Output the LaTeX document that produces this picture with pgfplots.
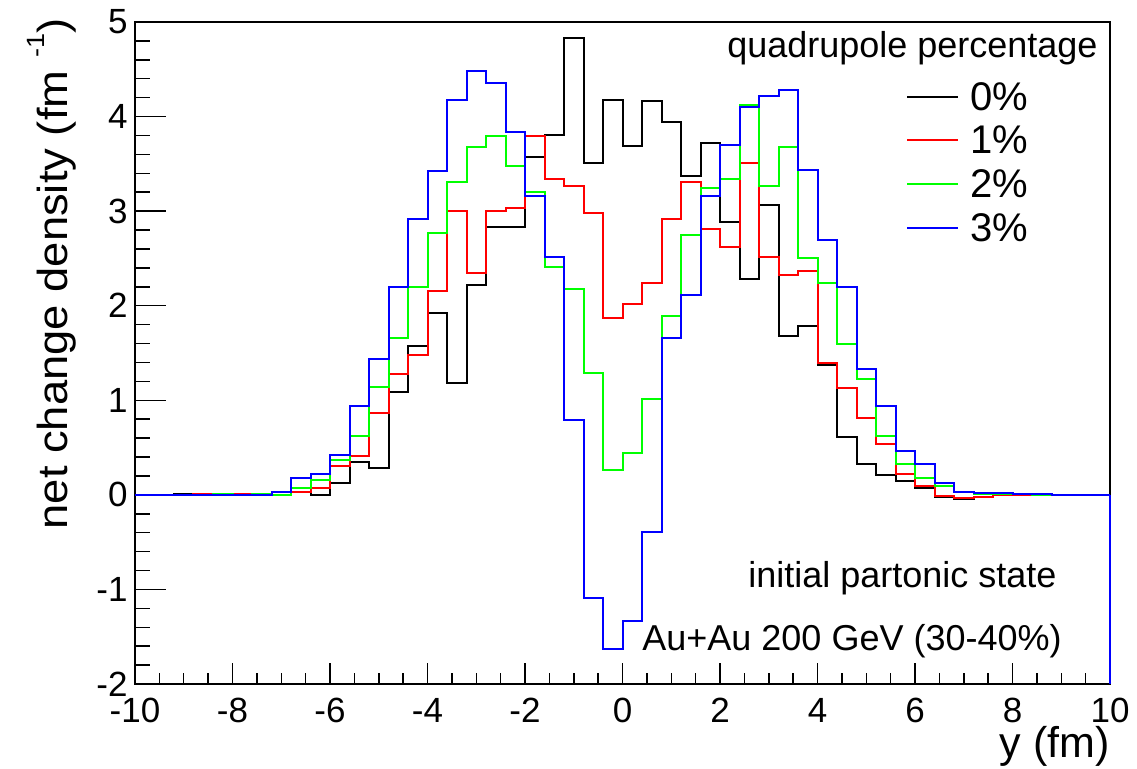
\documentclass[border=0pt]{standalone}
\usepackage{fontspec}
\setmainfont{Liberation Sans}
\usepackage{pgfplots}
\usepackage{pgfplotstable}
\pgfplotsset{compat=1.18}
\pgfplotstableread{
x black red green blue
-10.0 0 0 0 0
-9.6 0 0 0 0
-9.2 0.01 0 0 0
-8.8 0.01 0.01 0 0
-8.4 0.005 0 0.01 0
-8.0 0.005 0.01 0 0
-7.6 0 0 0.01 0
-7.2 0 0 0 0.03
-6.8 0.035 0.03 0.07 0.18
-6.4 0.0 0.07 0.16 0.22
-6.0 0.13 0.30 0.37 0.42
-5.6 0.35 0.41 0.62 0.94
-5.2 0.28 0.87 1.14 1.44
-4.8 1.09 1.28 1.66 2.20
-4.4 1.57 1.48 2.20 2.92
-4.0 1.92 2.16 2.77 3.42
-3.6 1.18 3.00 3.31 4.18
-3.2 2.22 2.35 3.68 4.48
-2.8 2.83 3.00 3.79 4.35
-2.4 2.83 3.03 3.48 3.84
-2.0 3.57 3.79 3.20 3.16
-1.6 3.81 3.34 2.41 2.51
-1.2 4.83 3.27 2.18 0.79
-0.8 3.51 2.98 1.29 -1.09
-0.4 4.18 1.87 0.26 -1.63
0.0 3.69 2.02 0.44 -1.33
0.4 4.16 2.24 1.01 -0.39
0.8 3.94 2.92 1.89 1.66
1.2 3.37 3.31 2.75 2.11
1.6 3.72 2.81 3.24 3.16
2.0 2.89 2.62 3.34 3.70
2.4 2.28 3.51 4.12 4.10
2.8 3.06 2.51 3.27 4.22
3.2 1.68 2.33 3.68 4.28
3.6 1.79 2.37 2.50 3.44
4.0 1.37 1.39 2.24 2.70
4.4 0.61 1.13 1.59 2.20
4.8 0.33 0.81 1.22 1.33
5.2 0.205 0.54 0.62 0.94
5.6 0.15 0.22 0.33 0.46
6.0 0.07 0.09 0.18 0.33
6.4 -0.025 -0.01 0.095 0.13
6.8 -0.045 -0.03 0.025 0.03
7.2 -0.025 -0.02 0.01 0.015
7.6 0 0 0.005 0.015
8.0 0 0 0.01 0.005
8.4 0 0 0 0.01
8.8 0 0 0 0
9.2 0 0 0 0
9.6 0 0 0 0
10.0 0 0 0 0
}\histdata
\begin{document}
\begin{tikzpicture}
\path[use as bounding box] (-67.5pt,-42pt) rectangle (501pt,342pt);
% y-axis ticks and frame
\begin{axis}[at={(0pt,0pt)}, anchor=south west, scale only axis,
  width=487.5pt, height=331pt,
  xmin=-10, xmax=10, ymin=-2, ymax=5,
  xtick=\empty, ytick={-2,-1,0,1,2,3,4,5},
  yticklabels={-2,-1,0,1,2,3,4,5},
  minor y tick num=4, ytick pos=left, tick align=inside,
  major tick length=15.3pt, minor tick length=7.5pt,
  axis line style={line width=1pt},
  tick style={line width=0.75pt, black},
  yticklabel style={font=\fontsize{17.5pt}{17.5pt}\selectfont, inner sep=0pt, anchor=east, xshift=-3.5pt}]
\end{axis}
% data and x-axis ticks
\begin{axis}[at={(0pt,0pt)}, anchor=south west, scale only axis,
  width=487.5pt, height=331pt,
  xmin=-10, xmax=10, ymin=-2, ymax=5,
  ytick=\empty, xtick={-10,-8,...,10},
  xticklabels={-10,-8,-6,-4,-2,0,2,4,6,8,10},
  minor x tick num=3, xtick pos=bottom, tick align=inside,
  major tick length=10.7pt, minor tick length=5.3pt,
  axis line style={line width=1pt},
  tick style={line width=0.75pt, black},
  xticklabel style={font=\fontsize{17.5pt}{17.5pt}\selectfont, inner sep=0pt, anchor=north, yshift=-7pt},
  clip=false]
\addplot[const plot, black, line width=1pt] table[x=x, y=black] {\histdata};
\addplot[const plot, red, line width=1pt] table[x=x, y=red] {\histdata};
\addplot[const plot, green, line width=1pt] table[x=x, y=green] {\histdata};
\addplot[const plot, blue, line width=1pt] table[x=x, y=blue] {\histdata};
\addplot[blue, line width=1pt] coordinates {(10,0) (10,-2)};
\end{axis}
% labels
\node[rotate=90, anchor=base east, inner sep=0pt, font=\fontsize{21pt}{21pt}\selectfont] at (-33.5pt,333pt)
  {\scalebox{1.08}[1]{net change density (fm\hspace{6pt}\raisebox{11.5pt}{\fontsize{12.5pt}{12.5pt}\selectfont -1})}};
\node[anchor=base east, inner sep=0pt, font=\fontsize{21.5pt}{21.5pt}\selectfont] at (487.5pt,-36.5pt) {y (fm)};
% legend
\node[anchor=base east, inner sep=0pt, font=\fontsize{18pt}{18pt}\selectfont] at (481.5pt,313.5pt) {quadrupole percentage};
\draw[black, line width=1pt] (386pt,293.5pt) -- (411.5pt,293.5pt);
\draw[red, line width=1pt] (386pt,272pt) -- (411.5pt,272pt);
\draw[green, line width=1pt] (386pt,250pt) -- (411.5pt,250pt);
\draw[blue, line width=1pt] (386pt,228pt) -- (411.5pt,228pt);
\node[anchor=west, inner sep=0pt, font=\fontsize{20pt}{20pt}\selectfont] at (417.5pt,293.5pt) {0\%};
\node[anchor=west, inner sep=0pt, font=\fontsize{20pt}{20pt}\selectfont] at (417.5pt,272pt) {1\%};
\node[anchor=west, inner sep=0pt, font=\fontsize{20pt}{20pt}\selectfont] at (417.5pt,250pt) {2\%};
\node[anchor=west, inner sep=0pt, font=\fontsize{20pt}{20pt}\selectfont] at (417.5pt,228pt) {3\%};
% annotations
\node[anchor=base west, inner sep=0pt, font=\fontsize{18pt}{18pt}\selectfont] at (306.5pt,48.5pt) {initial partonic state};
\node[anchor=base west, inner sep=0pt, font=\fontsize{18pt}{18pt}\selectfont] at (253.5pt,17pt) {Au+Au 200 GeV (30-40\%)};
\end{tikzpicture}
\end{document}
